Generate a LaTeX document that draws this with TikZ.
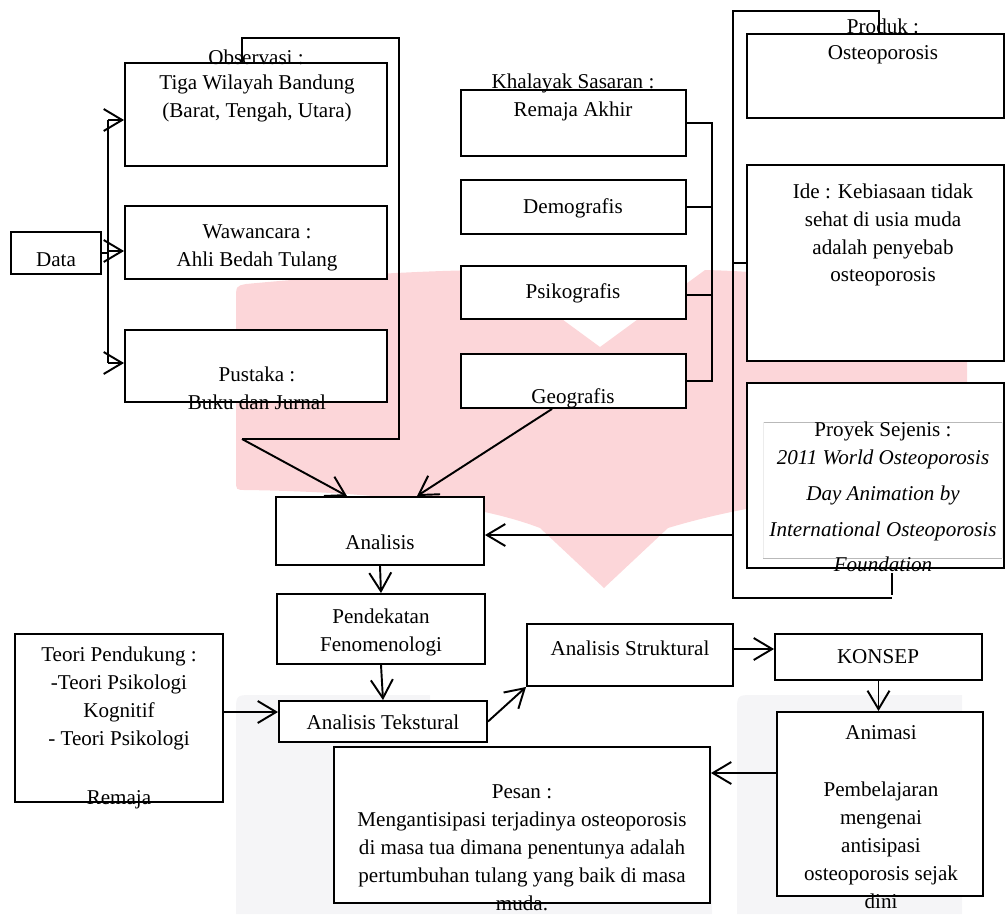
\documentclass[tikz,border=0pt]{standalone}
\usepackage{fontspec}
\setmainfont{Liberation Serif}
\usetikzlibrary{arrows.meta,fit}
\definecolor{wmpink}{RGB}{252,214,217}
\definecolor{wmgrey}{RGB}{245,245,247}
\tikzset{
  box/.style={draw,fill=white,line width=1.1pt,inner sep=0pt},
  lbl/.style={align=center,inner sep=0pt},
  conn/.style={line width=1.1pt},
  arr/.style={conn,->},
}
\begin{document}
\begin{tikzpicture}[x=0.02cm,y=-0.02cm,>={Straight Barb[length=10.5pt,width=12.5pt]},font=\fontsize{12}{15.9}\selectfont]
\useasboundingbox (0,0) rectangle (1007,914);
% watermark
\fill[wmpink] (236,300) .. controls (236,286) .. (246,284) .. controls (330,276) and (430,270) .. (495,270)
  -- (600,347) -- (705,270) .. controls (800,272) and (900,290) .. (967,300) -- (967,488)
  .. controls (880,488) and (760,500) .. (668,528) -- (604,588) -- (540,528)
  .. controls (480,505) and (380,492) .. (246,490) .. controls (236,490) .. (236,480) -- cycle;
\fill[wmgrey] (236,914) -- (236,712) .. controls (236,695) .. (253,695) -- (430,695) -- (430,747)
  -- (712,747) -- (712,914) -- cycle;
\fill[wmgrey] (737,914) -- (737,712) .. controls (737,695) .. (754,695) -- (962,695) -- (962,914) -- cycle;
% brackets
\coordinate (lb) at (242,439);
\coordinate (rb) at (733,0);
\coordinate (kb) at (712,0);
\coordinate (ds) at (108,0);
\draw[conn] (242,63) -- (242,38) -- (399,38) -- (399,439) -- (lb);
\draw[conn] (879,34) -- (879,11) -- (733,11) -- (733,598) -- (892,598);
\draw[conn] (892,573) -- (892,595);
% boxes
\node[box,fit={(125,63) (387,166)}] (obs) {};
\node[box,fit={(125,206) (387,279)}] (waw) {};
\node[box,fit={(125,330) (387,402)}] (pus) {};
\node[box,fit={(11,232) (101,274)}] (data) {};
\node[box,fit={(461,90) (686,156)}] (rem) {};
\node[box,fit={(461,180) (686,234)}] (demo) {};
\node[box,fit={(461,266) (686,319)}] (psi) {};
\node[box,fit={(461,354) (686,408)}] (geo) {};
\node[box,fit={(747,34) (1004,118)}] (prod) {};
\node[box,fit={(747,165) (1004,361)}] (ide) {};
\node[box,fit={(747,383) (1004,568)}] (proy) {};
\node[box,fit={(276,497) (484,565)}] (anl) {};
\node[box,fit={(277,594) (485,664)}] (pend) {};
\node[box,fit={(279,701) (487,742)}] (teks) {};
\node[box,fit={(15,634) (223,802)}] (teori) {};
\node[box,fit={(527,624) (733,686)}] (strk) {};
\node[box,fit={(775,634) (982,680)}] (kon) {};
\node[box,fit={(777,712) (983,896)}] (ani) {};
\node[box,fit={(334,747) (710,903)}] (pes) {};
\draw[gray!55,line width=0.3pt] (763,422) -- (1002,422) (763,558) -- (1002,558);
\draw[gray!15,line width=0.3pt] (763,422) -- (763,558) (1002,422) -- (1002,558);
% texts
\node[lbl] (obs-h) at (256,57) {Observasi :};
\node[lbl] (obs-t) at (257,98) {Tiga Wilayah Bandung\\(Barat, Tengah, Utara)};
\node[lbl] (waw-t) at (257,248) {Wawancara :\\Ahli Bedah Tulang};
\node[lbl] (pus-t) at (257,388) {Pustaka :\\Buku dan Jurnal};
\node[lbl] (data-t) at (56,260) {Data};
\node[lbl] (rem-h) at (573,83) {Khalayak Sasaran :};
\node[lbl] (rem-t) at (573,111) {Remaja Akhir};
\node[lbl] (demo-t) at (573,208) {Demografis};
\node[lbl] (psi-t) at (573,293) {Psikografis};
\node[lbl] (geo-t) at (573,398) {Geografis};
\node[lbl] (prod-h) at (883,26) {Produk :};
\node[lbl] (prod-t) at (883,55) {Osteoporosis};
\node[lbl] (ide-t) at (883,235) {Ide : Kebiasaan tidak\\sehat di usia muda\\adalah penyebab\\osteoporosis};
\node[lbl] (proy-t) at (883,497) {Proyek Sejenis :\\\textit{2011 World Osteoporosis}\\[4.5pt]\textit{Day Animation by}\\[4.5pt]\textit{International Osteoporosis}\\[4.5pt]\textit{Foundation}};
\node[lbl] (anl-t) at (380,542) {Analisis};
\node[lbl] (pend-t) at (381,632) {Pendekatan\\Fenomenologi};
\node[lbl] (teks-t) at (383,722) {Analisis Tekstural};
\node[lbl] (teori-t) at (119,728) {Teori Pendukung :\\-Teori Psikologi\\Kognitif\\- Teori Psikologi\\[17.5pt]Remaja};
\node[lbl] (strk-t) at (630,648) {Analisis Struktural};
\node[lbl] (kon-t) at (878,657) {KONSEP};
\node[lbl] (ani-t) at (881,817) {Animasi\\[17pt]Pembelajaran\\mengenai\\antisipasi\\osteoporosis sejak\\dini};
\node[lbl] (pes-t) at (522,848) {Pesan :\\Mengantisipasi terjadinya osteoporosis\\di masa tua dimana penentunya adalah\\pertumbuhan tulang yang baik di masa\\muda.};
% connectors
\draw[conn] (data.east) -- (data.east -| ds);
\draw[conn] (ds |- 0,120) -- (ds |- 0,363);
\draw[arr] (ds |- 0,120) -- (obs.west |- 0,120);
\draw[arr] (ds |- 0,251) -- (waw.west |- 0,251);
\draw[arr] (ds |- 0,363) -- (pus.west |- 0,363);
\draw[conn] (rem.east) -- (rem.east -| kb) -- (geo.east -| kb) -- (geo.east);
\draw[conn] (demo.east) -- (demo.east -| kb);
\draw[conn] (psi.east |- 0,295) -- (kb |- 0,295);
\draw[conn] (ide.west -| rb) -- (ide.west);
\draw[arr] (lb) -- (anl.north -| 347,0);
\draw[arr] (geo.south -| 552,0) -- (anl.north -| 417,0);
\draw[arr] (rb |- 0,535) -- (anl.east |- 0,535);
\draw[arr] (anl.south) -- (pend.north);
\draw[arr] (pend.south) -- (teks.north);
\draw[arr] (teori.east |- 0,712) -- (teks.west |- 0,712);
\draw[arr] (teks.east) -- (strk.south west);
\draw[arr] (strk.east |- 0,649) -- (kon.west |- 0,649);
\draw[arr] (kon.south) -- (kon.south |- ani.north);
\draw[arr] (ani.west |- 0,773) -- (pes.east |- 0,773);
\end{tikzpicture}
\end{document}
